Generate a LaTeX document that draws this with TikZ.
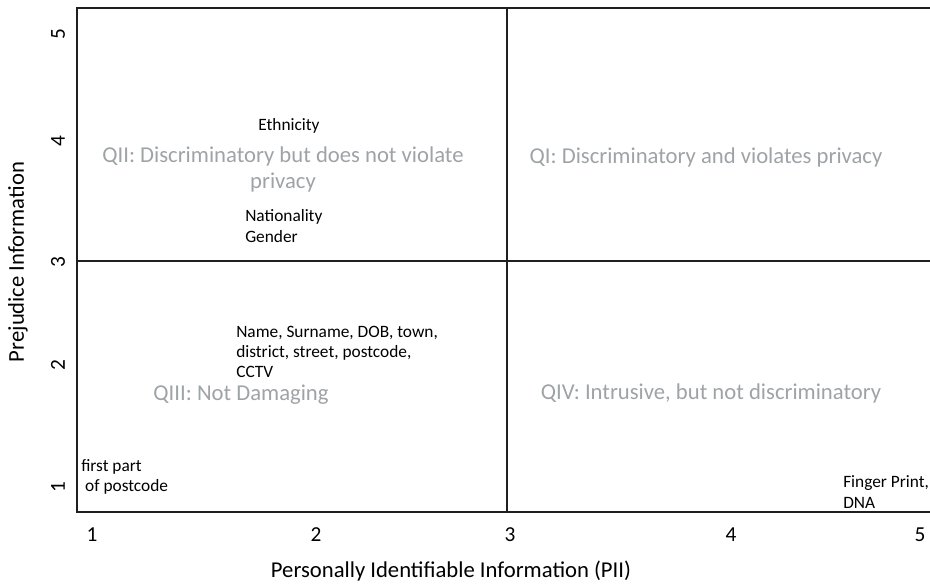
\documentclass[tikz,border=0pt]{standalone}
\usepackage{fontspec}
\setmainfont{Carlito}
\definecolor{quadgray}{RGB}{158,163,166}
\begin{document}
\begin{tikzpicture}[x=0.75pt,y=-0.75pt,
  frame/.style={line width=2.1pt,black!88},
  divider/.style={line width=1.7pt,black!88},
  quad/.style={text=quadgray,font=\fontsize{17}{19.5}\selectfont,align=center,inner sep=0pt},
  item/.style={font=\fontsize{13}{15.2}\selectfont,align=left,anchor=west,inner sep=0pt},
  tick/.style={font=\fontsize{16}{18}\selectfont,inner sep=0pt},
  axislabel/.style={font=\fontsize{17}{19}\selectfont,inner sep=0pt}]
\useasboundingbox (0,0) rectangle (930,586);
% plot frame (open on the right)
\coordinate (tl) at (77,8);
\coordinate (bl) at (77,512);
\coordinate (tr) at (930,8);
\coordinate (br) at (930,512);
\coordinate (mt) at (507,8);
\coordinate (mb) at (507,512);
\coordinate (ml) at (77,261);
\coordinate (mr) at (930,261);
\draw[frame] (tr) -- (tl) -- (bl) -- (br);
\draw[divider] (mt) -- (mb);
\draw[divider] (ml) -- (mr);
% quadrant titles
\node[quad] (q2) at (283,169) {QII: Discriminatory but does not violate\\privacy};
\node[quad] (q1) at (706,157) {QI: Discriminatory and violates privacy};
\node[quad] (q3) at (241,395) {QIII: Not Damaging};
\node[quad] (q4) at (711,393) {QIV: Intrusive, but not discriminatory};
% data items
\node[item,anchor=center] (eth) at (289,126) {Ethnicity};
\node[item] (nat) at (245,226) {Nationality\\Gender};
\node[item] (pers) at (236,352) {Name, Surname, DOB, town,\\district, street, postcode,\\CCTV};
\node[item] (post) at (81,477) {first part\\\ of postcode};
\node[item] (bio) at (843,492) {Finger Print,\\DNA};
% x ticks
\node[tick] (x1) at (92,535) {1};
\node[tick] (x2) at (316,535) {2};
\node[tick] (x3) at (510,535) {3};
\node[tick] (x4) at (731,535) {4};
\node[tick] (x5) at (920,535) {5};
% y ticks (rotated)
\node[tick,rotate=90] (y5) at (58,34) {5};
\node[tick,rotate=90] (y4) at (58,141) {4};
\node[tick,rotate=90] (y3) at (58,262) {3};
\node[tick,rotate=90] (y2) at (58,365) {2};
\node[tick,rotate=90] (y1) at (58,487) {1};
% axis titles
\node[axislabel] (xl) at (451,571) {Personally Identifiable Information (PII)};
\node[axislabel,rotate=90] (yl) at (18,262) {Prejudice Information};
\end{tikzpicture}
\end{document}
